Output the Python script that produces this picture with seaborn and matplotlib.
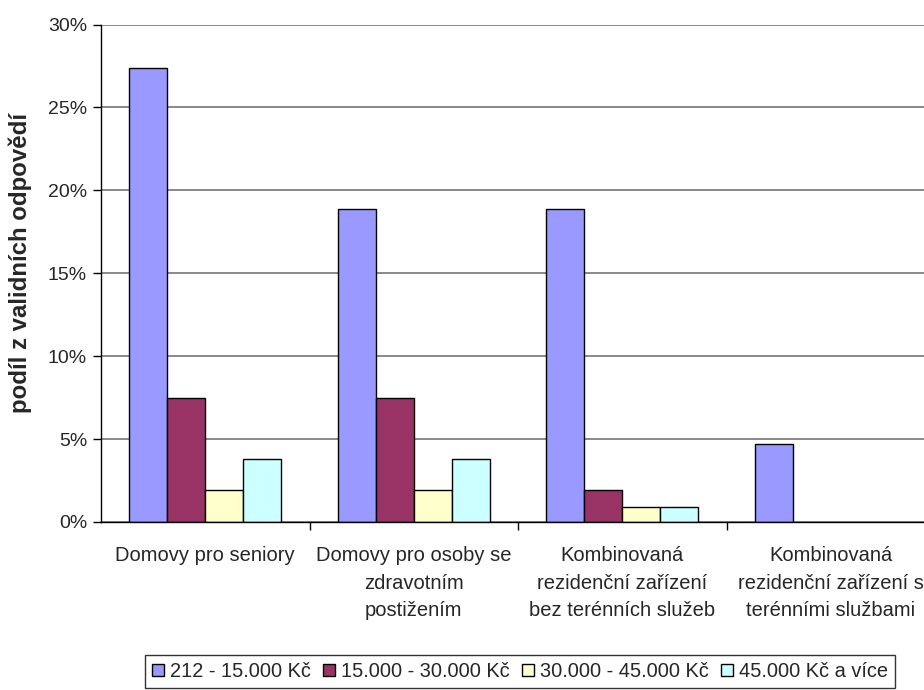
import matplotlib
matplotlib.use("Agg")
import matplotlib.pyplot as plt
import seaborn as sns
import pandas as pd
from matplotlib.ticker import FuncFormatter

# Facility types (x categories)
categories = [
    "Domovy pro seniory",
    "Domovy pro osoby se\nzdravotním\npostižením",
    "Kombinovaná\nrezidenční zařízení\nbez terénních služeb",
    "Kombinovaná\nrezidenční zařízení s\nterénními službami",
]

# Income brackets (legend)
brackets = ["212 - 15.000 Kč", "15.000 - 30.000 Kč", "30.000 - 45.000 Kč", "45.000 Kč a více"]

# Share of valid answers, in percent, per bracket
share_212_15000 = [27.4, 18.9, 18.9, 4.7]
share_15000_30000 = [7.5, 7.5, 1.9, 0.0]
share_30000_45000 = [1.9, 1.9, 0.9, 0.0]
share_45000_plus = [3.8, 3.8, 0.9, 0.0]

colors = ["#9999FF", "#993366", "#FFFFCC", "#CCFFFF"]

series = [share_212_15000, share_15000_30000, share_30000_45000, share_45000_plus]
rows = []
for b, vals in zip(brackets, series):
    for c, v in zip(categories, vals):
        rows.append({"typ": c, "příjem": b, "podíl": v})
df = pd.DataFrame(rows)

sns.set_style("white")
plt.rcParams["font.family"] = ["Liberation Sans", "DejaVu Sans"]

W, H = 924, 690
fig = plt.figure(figsize=(W / 100, H / 100), dpi=100)
ax_left, ax_right_px, ax_top, ax_bottom = 101, 935, 24.5, 522
ax = fig.add_axes([ax_left / W, (H - ax_bottom) / H,
                   (ax_right_px - ax_left) / W, (ax_bottom - ax_top) / H])

sns.barplot(data=df, x="typ", y="podíl", hue="příjem", hue_order=brackets,
            order=categories, palette=colors, width=0.729, gap=0,
            edgecolor="black", linewidth=1.0, saturation=1, ax=ax, legend=True)

# empty bars leave no outline
for p in ax.patches:
    if p.get_height() == 0:
        p.set_linewidth(0)

ax.set_ylim(0, 30)
ax.set_xlim(-0.5, 3.5)
ax.set_yticks([0, 5, 10, 15, 20, 25, 30])
ax.yaxis.set_major_formatter(FuncFormatter(lambda v, p: f"{int(v)}%"))
ax.yaxis.grid(True, color="#808080", linewidth=1.3)
ax.set_axisbelow(True)

for s in ["top", "right"]:
    ax.spines[s].set_visible(False)
for s in ["left", "bottom"]:
    ax.spines[s].set_color("black")
    ax.spines[s].set_linewidth(1.0)

# Category boundary ticks on x, labels at category centres
ax.set_xticks([0.5, 1.5, 2.5], minor=False)
ax.set_xticklabels([])
ax.set_xticks([0, 1, 2, 3], minor=True)
ax.set_xticklabels(categories, minor=True, fontsize=14.5, linespacing=1.55)
ax.tick_params(axis="x", which="major", direction="out", length=6, width=1, color="black", bottom=True)
ax.tick_params(axis="x", which="minor", length=0, pad=17.5)
ax.tick_params(axis="y", direction="out", length=6, width=1, color="black",
               left=True, labelsize=14, pad=4)
for lbl in ax.get_xticklabels(minor=True):
    lbl.set_verticalalignment("top")
    lbl.set_horizontalalignment("center")

ax.set_xlabel("")
ax.set_ylabel("")
fig.text(20 / W, (H - 263) / H, "podíl z validních odpovědí", rotation=90,
         ha="center", va="center", fontsize=17.3, fontweight="bold")

handles, labels = ax.get_legend_handles_labels()
ax.get_legend().remove()
leg = fig.legend(handles, labels, loc="upper center", ncol=4,
                 bbox_to_anchor=(520 / W, (H - 655) / H),
                 frameon=True, fancybox=False, fontsize=14.4,
                 handlelength=0.6, handleheight=0.6, handletextpad=0.3,
                 columnspacing=0.6, borderpad=0.35, borderaxespad=0)
leg.get_frame().set_edgecolor("black")
leg.get_frame().set_linewidth(1.0)
for h in leg.legend_handles:
    h.set_edgecolor("black")
    h.set_linewidth(1.0)

fig.savefig("out.png", dpi=100)
